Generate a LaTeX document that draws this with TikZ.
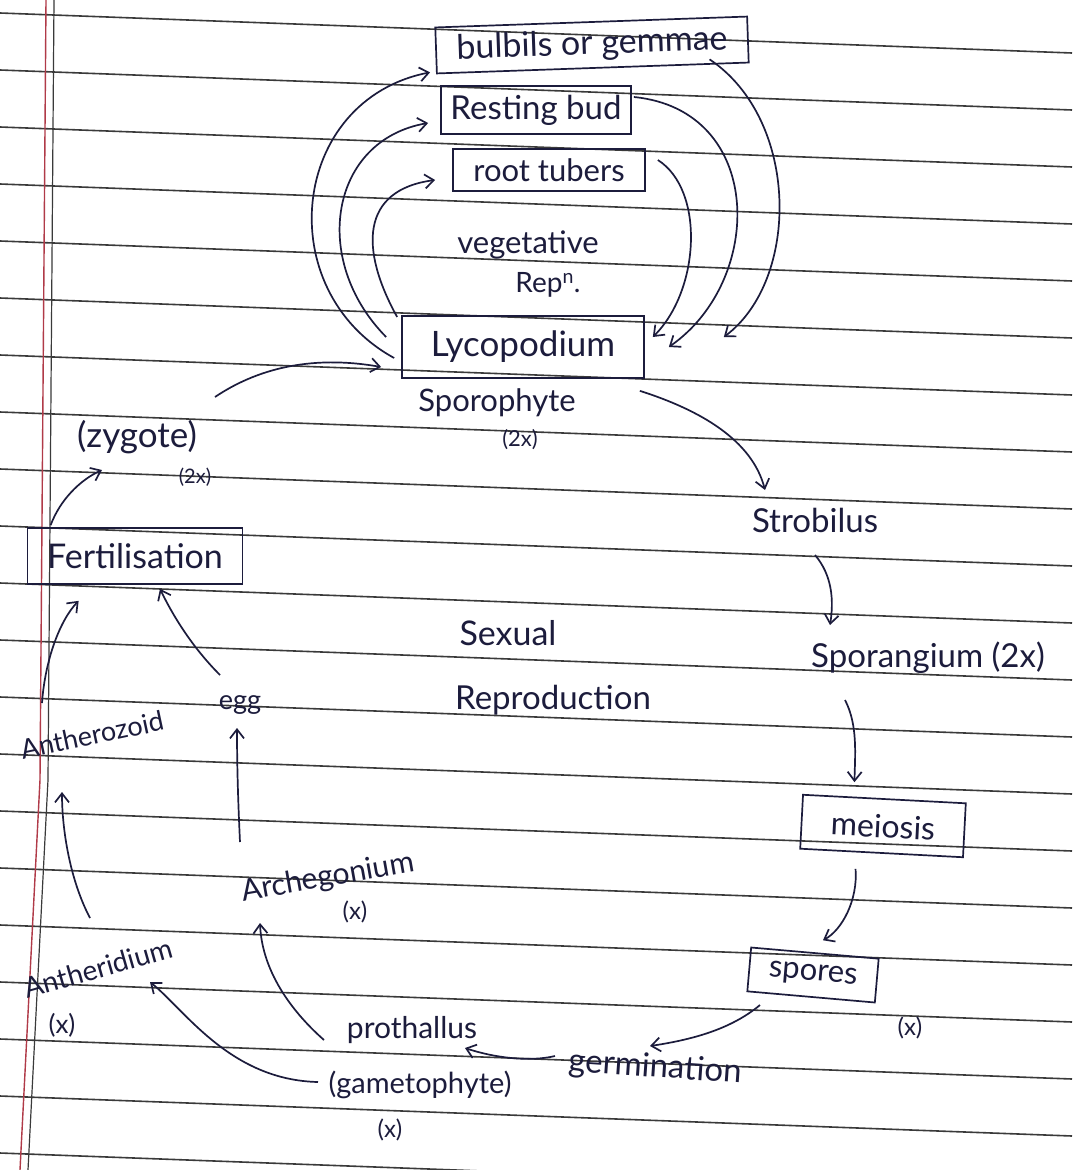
\documentclass[tikz,border=0pt]{standalone}
\usepackage{fontspec}
\setmainfont{Lato}
\usetikzlibrary{arrows.meta,calc}
\definecolor{ink}{HTML}{1C1C3C}
\definecolor{rule}{HTML}{3A3A3A}
\definecolor{margin}{HTML}{B03A48}
\tikzset{
  lbl/.style={font=\fontsize{#1}{#1}\selectfont, text=ink, inner sep=1pt},
  box/.style={draw=ink, line width=1.7pt, inner sep=3pt},
  arr/.style={draw=ink, line width=1.7pt, -{Straight Barb[length=9pt,width=14pt,line width=1.7pt]}},
}
\begin{document}
\begin{tikzpicture}[x=1pt,y=-1pt]
\useasboundingbox (0,0) rectangle (1072,1170);
\fill[white] (0,0) rectangle (1072,1170);
% ruled paper
\foreach \k in {-7,...,13}{
  \draw[rule, line width=1.6pt] (0,412+57*\k) -- (1072,452+57*\k);
}
\draw[margin, line width=1.4pt] (46,0) -- (40,780) -- (20,1170);
\draw[rule, line width=1.2pt] (54,0) -- (48,780) -- (28,1170);

% vegetative part
\node[box, lbl=34, rotate=2, minimum width=312pt, minimum height=46pt] (bulb) at (592,45) {bulbils or gemmae};
\node[box, lbl=33, minimum width=190pt, minimum height=48pt] (rest) at (536,110) {Resting bud};
\node[box, lbl=31, minimum width=192pt, minimum height=42pt] (root) at (549,170) {root tubers};
\node[lbl=31] (veg1) at (528,245) {vegetative};
\node[lbl=28] (veg2) at (548,285) {Rep\textsuperscript{n}.};
\node[box, lbl=35, minimum width=242pt, minimum height=62pt] (lyco) at (523,347) {Lycopodium};
\node[lbl=31] (spo) at (497,403) {Sporophyte};
\node[lbl=22] (spo2) at (520,440) {(2x)};

% left side
\node[lbl=35] (zyg) at (137,437) {(zygote)};
\node[lbl=20] (zyg2) at (195,477) {(2x)};
\node[box, lbl=34, minimum width=215pt, minimum height=56pt] (fert) at (135,556) {Fertilisation};
\node[lbl=27, rotate=12] (anz) at (92,735) {Antherozoid};
\node[lbl=27] (egg) at (240,705) {egg};
\node[lbl=30, rotate=10] (arch) at (328,878) {Archegonium};
\node[lbl=24] (archx) at (355,912) {(x)};
\node[lbl=28, rotate=16] (anth) at (98,968) {Antheridium};
\node[lbl=26] (anthx) at (62,1025) {(x)};

% centre
\node[lbl=34] (sex1) at (508,633) {Sexual};
\node[lbl=33] (sex2) at (553,700) {Reproduction};

% right side
\node[lbl=33] (strob) at (815,520) {Strobilus};
\node[lbl=33] (spor) at (928,658) {Sporangium (2x)};
\node[box, lbl=32, rotate=-3, minimum width=163pt, minimum height=54pt] (mei) at (883,826) {meiosis};
\node[box, lbl=31, rotate=-5, minimum width=128pt, minimum height=44pt] (spores) at (813,975) {spores};
\node[lbl=24] (sporesx) at (910,1028) {(x)};

% bottom
\node[lbl=30] (proth) at (412,1030) {prothallus};
\node[lbl=29] (game) at (420,1085) {(gametophyte)};
\node[lbl=24] (gamex) at (390,1130) {(x)};
\node[lbl=33, rotate=-4] (germ) at (655,1068) {germination};

% vegetative arrows (left)
\draw[arr] ($(lyco.west)+(-7,11)$) .. controls (270,290) and (290,100) .. ($(bulb.south west)+(-6,-2)$);
\draw[arr] ($(lyco.west)+(-15,-10)$) .. controls (310,260) and (330,140) .. ($(rest.west)+(-12,13)$);
\draw[arr] ($(lyco.west)+(-4,-30)$) .. controls (360,250) and (360,190) .. ($(root.west)+(-17,10)$);
% vegetative arrows (right)
\coordinate (e1) at ($(lyco.east)+(79,-10)$);
\coordinate (e2) at ($(lyco.east)+(24,0)$);
\coordinate (e3) at ($(lyco.east)+(8,-10)$);
\draw[arr] ($(bulb.south east)+(-40,-4)$) .. controls (800,120) and (800,280) .. (e1);
\draw[arr] ($(rest.east)+(2,-13)$) .. controls (765,110) and (765,280) .. (e2);
\draw[arr] ($(root.east)+(12,-10)$) .. controls (705,190) and (700,290) .. (e3);

% cycle
\draw[arr] ($(zyg.center)+(78,-40)$) .. controls (270,360) and (330,358) .. ($(lyco.west)+(-20,20)$);
\draw[arr] ($(lyco.south east)+(-5,12)$) .. controls (700,410) and (752,440) .. ($(strob.center)+(-50,-30)$);
\draw[arr] ($(strob.center)+(0,35)$) .. controls (832,575) and (834,600) .. ($(spor.center)+(-98,-33)$);
\draw[arr] ($(spor.center)+(-83,42)$) .. controls (858,725) and (855,755) .. ($(mei.north)+(-30,-16)$);
\draw[arr] ($(mei.south)+(-26,15)$) .. controls (858,900) and (842,930) .. ($(spores.north)+(8,-12)$);
\draw[arr] ($(spores.center)+(-53,30)$) .. controls (730,1030) and (690,1040) .. ($(germ.center)+(-5,-22)$);
\draw[arr] ($(germ.center)+(-100,-12)$) .. controls (530,1062) and (495,1058) .. ($(proth.center)+(53,18)$);
\draw[arr] ($(proth.center)+(-88,10)$) .. controls (290,1010) and (262,970) .. ($(arch.center)+(-68,45)$);
\draw[arr] ($(game.center)+(-102,-3)$) .. controls (230,1080) and (185,1010) .. ($(anth.center)+(52,14)$);
\draw[arr] ($(anth.center)+(-8,-50)$) .. controls (70,880) and (62,830) .. ($(anz.center)+(-30,57)$);
\draw[arr] ($(arch.center)+(-88,-36)$) .. controls (238,800) and (237,765) .. ($(egg.center)+(-3,23)$);
\draw[arr] ($(egg.center)+(-20,-30)$) .. controls (195,650) and (175,620) .. ($(fert.south)+(25,4)$);
\draw[arr] ($(anz.center)+(-50,-32)$) .. controls (45,660) and (60,620) .. ($(fert.south west)+(52,16)$);
\draw[arr] ($(fert.north west)+(24,-2)$) .. controls (60,500) and (80,480) .. ($(zyg.center)+(-35,33)$);
\end{tikzpicture}
\end{document}
